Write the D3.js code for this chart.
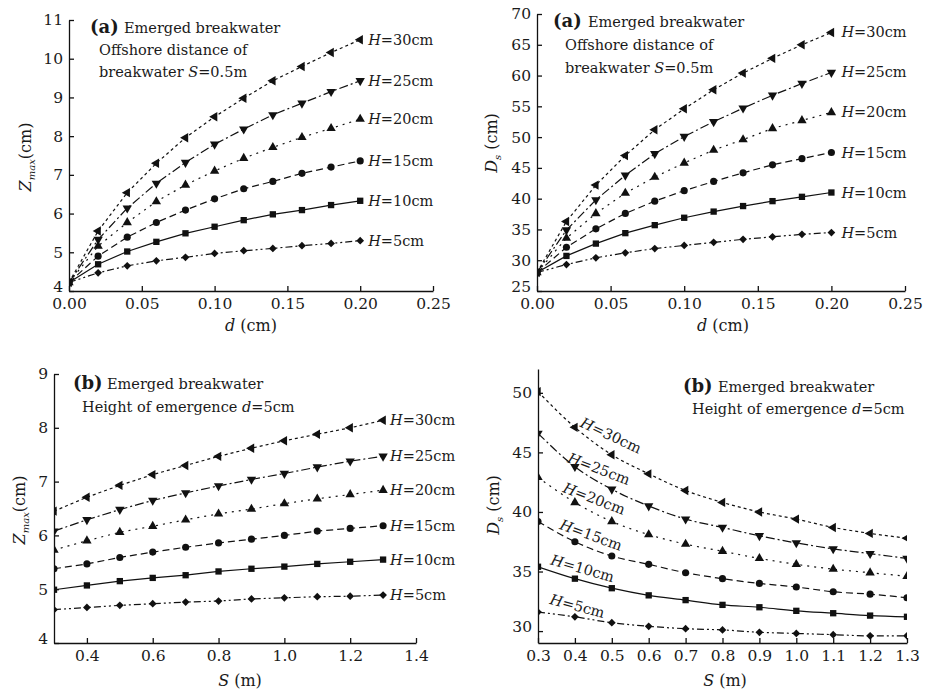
<!DOCTYPE html>
<html>
<head>
<meta charset="utf-8">
<script src="https://cdn.jsdelivr.net/npm/d3@7"></script>
<style>
  html, body { margin: 0; padding: 0; background: #fff; }
  svg { display: block; }
  svg text { font-family: "DejaVu Serif", "Liberation Serif", serif; fill: #1a1a1a; }
</style>
</head>
<body>
<svg id="chart" width="927" height="691"></svg>
<script>
// ---- data ----------------------------------------------------------------
const waveHeights = [30, 25, 20, 15, 10, 5];          // H (cm)

// (a) relative height d (cm)
const dValues = [0, 0.02, 0.04, 0.06, 0.08, 0.10, 0.12, 0.14, 0.16, 0.18, 0.20];
// Z_max (cm) vs d
const zmaxD30 = [4.22, 5.55, 6.54, 7.30, 7.96, 8.50, 8.98, 9.43, 9.80, 10.16, 10.49];
const zmaxD25 = [4.22, 5.33, 6.14, 6.78, 7.32, 7.79, 8.18, 8.55, 8.85, 9.15, 9.43];
const zmaxD20 = [4.22, 5.16, 5.77, 6.31, 6.74, 7.10, 7.43, 7.71, 7.97, 8.20, 8.44];
const zmaxD15 = [4.22, 4.90, 5.39, 5.77, 6.09, 6.38, 6.64, 6.83, 7.04, 7.20, 7.36];
const zmaxD10 = [4.22, 4.69, 5.02, 5.27, 5.49, 5.66, 5.83, 5.98, 6.09, 6.22, 6.33];
const zmaxD5  = [4.22, 4.47, 4.65, 4.78, 4.87, 4.97, 5.04, 5.10, 5.17, 5.23, 5.30];
// D_s (cm) vs d
const dsD30 = [28.0, 36.3, 42.2, 47.0, 51.2, 54.6, 57.7, 60.4, 62.8, 65.0, 67.0];
const dsD25 = [28.0, 34.9, 39.8, 43.8, 47.3, 50.1, 52.5, 54.7, 56.8, 58.7, 60.5];
const dsD20 = [28.0, 33.6, 37.6, 40.9, 43.5, 45.8, 47.9, 49.6, 51.4, 52.7, 54.0];
const dsD15 = [28.0, 32.1, 35.1, 37.6, 39.6, 41.3, 42.8, 44.2, 45.5, 46.5, 47.5];
const dsD10 = [28.0, 30.7, 32.7, 34.4, 35.7, 36.9, 37.9, 38.8, 39.6, 40.3, 41.0];
const dsD5  = [28.0, 29.3, 30.4, 31.2, 31.9, 32.4, 32.9, 33.4, 33.8, 34.2, 34.5];

// (b) offshore distance S (m)
const sValues = [0.3, 0.4, 0.5, 0.6, 0.7, 0.8, 0.9, 1.0, 1.1, 1.2, 1.3];
// Z_max (cm) vs S
const zmaxS30 = [6.45, 6.71, 6.93, 7.13, 7.30, 7.47, 7.62, 7.76, 7.88, 8.00, 8.14];
const zmaxS25 = [6.08, 6.29, 6.48, 6.65, 6.79, 6.92, 7.04, 7.15, 7.27, 7.38, 7.47];
const zmaxS20 = [5.73, 5.90, 6.06, 6.17, 6.29, 6.40, 6.49, 6.59, 6.68, 6.76, 6.84];
const zmaxS15 = [5.38, 5.47, 5.59, 5.69, 5.78, 5.86, 5.93, 6.00, 6.08, 6.13, 6.18];
const zmaxS10 = [4.99, 5.07, 5.15, 5.21, 5.26, 5.33, 5.38, 5.42, 5.47, 5.51, 5.55];
const zmaxS5  = [4.62, 4.66, 4.70, 4.73, 4.76, 4.78, 4.82, 4.84, 4.86, 4.87, 4.89];
// D_s (cm) vs S
const dsS30 = [50.1, 47.1, 44.8, 43.2, 41.8, 40.8, 40.0, 39.4, 38.7, 38.2, 37.8];
const dsS25 = [46.6, 43.8, 41.9, 40.5, 39.4, 38.7, 38.0, 37.4, 36.9, 36.5, 36.1];
const dsS20 = [42.9, 40.8, 39.2, 38.1, 37.3, 36.7, 36.1, 35.6, 35.2, 34.9, 34.6];
const dsS15 = [39.2, 37.5, 36.3, 35.6, 34.9, 34.4, 34.0, 33.7, 33.3, 33.1, 32.8];
const dsS10 = [35.4, 34.4, 33.6, 33.0, 32.6, 32.2, 32.0, 31.7, 31.5, 31.3, 31.2];
const dsS5  = [31.6, 31.2, 30.7, 30.4, 30.2, 30.1, 29.9, 29.8, 29.7, 29.6, 29.6];

// tick values
const ticksD = [0, 0.05, 0.10, 0.15, 0.20, 0.25];
const ticksZmaxD = [4, 5, 6, 7, 8, 9, 10, 11];
const ticksDsD = [25, 30, 35, 40, 45, 50, 55, 60, 65, 70];
const ticksSLeft = [0.4, 0.6, 0.8, 1.0, 1.2, 1.4];
const ticksZmaxS = [4, 5, 6, 7, 8, 9];
const ticksSRight = [0.3, 0.4, 0.5, 0.6, 0.7, 0.8, 0.9, 1.0, 1.1, 1.2, 1.3];
const ticksDsS = [30, 35, 40, 45, 50];

// ---- styles per wave height ---------------------------------------------
const dashFor = {30: "3,3", 25: "9,3,2,3", 20: "2,5", 15: "7,4", 10: null, 5: "7,3,2,3,2,3"};
const markerFor = {
  30: {type: d3.symbolTriangle, size: 38, rot: -90},
  25: {type: d3.symbolTriangle, size: 38, rot: 180},
  20: {type: d3.symbolTriangle, size: 38, rot: 0},
  15: {type: d3.symbolCircle,   size: 40, rot: 0},
  10: {type: d3.symbolSquare,   size: 40, rot: 0},
  5:  {type: d3.symbolSquare,   size: 30, rot: 45}
};

const FS_TICK = 15.5, FS_TEXT = 14.5, FS_TAG = 18, FS_TITLE = 16;

const svg = d3.select("#chart");
let clipId = 0;

function italicParts(sel, parts) {
  parts.forEach(p => {
    const t = sel.append("tspan").text(p.t);
    if (p.i) t.attr("font-style", "italic");
    if (p.b) t.attr("font-weight", "bold");
    if (p.fs) t.attr("font-size", p.fs);
    if (p.dy) t.attr("dy", p.dy);
  });
  return sel;
}

function drawPanel(cfg) {
  const x = d3.scaleLinear().domain(cfg.xDomain).range([cfg.left, cfg.right]);
  const y = d3.scaleLinear().domain(cfg.yDomain).range([cfg.bottom, cfg.top]);
  const g = svg.append("g");

  // axes with inward ticks
  const ax = g.append("g").attr("transform", `translate(0,${cfg.bottom})`)
    .call(d3.axisBottom(x).tickValues(cfg.xTicks).tickFormat(cfg.xFmt)
      .tickSizeInner(-5).tickSizeOuter(0).tickPadding(7));
  const ay = g.append("g").attr("transform", `translate(${cfg.left},0)`)
    .call(d3.axisLeft(y).tickValues(cfg.yTicks).tickFormat(d3.format("d"))
      .tickSizeInner(-5).tickSizeOuter(0).tickPadding(6));
  [ax, ay].forEach(a => {
    a.attr("font-family", null).attr("font-size", null);
    a.selectAll("path, line").attr("stroke", "#111").attr("stroke-width", 1.3);
    a.selectAll("text").attr("font-size", FS_TICK).attr("fill", "#1a1a1a");
  });
  // lift the lowest y label a little so it clears the corner x label
  ay.selectAll(".tick text").filter(d => d === cfg.yTicks[0]).attr("dy", "0em");

  // clip to the plot area
  const id = "clip" + (clipId++);
  svg.append("clipPath").attr("id", id).append("rect")
    .attr("x", cfg.left).attr("y", cfg.top)
    .attr("width", cfg.right - cfg.left).attr("height", cfg.bottom - cfg.top);
  const plot = g.append("g").attr("clip-path", `url(#${id})`);

  const line = d3.line().x(d => x(d[0])).y(d => y(d[1])).curve(cfg.curve);

  waveHeights.forEach((h, i) => {
    const pts = cfg.xs.map((v, k) => [v, cfg.series[i][k]]);
    plot.append("path").datum(pts)
      .attr("d", line).attr("fill", "none")
      .attr("stroke", "#111").attr("stroke-width", 1.2)
      .attr("stroke-dasharray", dashFor[h]);
    const m = markerFor[h];
    const sym = d3.symbol().type(m.type).size(m.size);
    plot.selectAll(null).data(pts).join("path")
      .attr("d", sym)
      .attr("transform", d => `translate(${x(d[0])},${y(d[1])}) rotate(${m.rot})`)
      .attr("fill", "#111");
  });

  // series labels
  waveHeights.forEach((h, i) => {
    const lab = cfg.labels ? cfg.labels[i] : null;
    let tx, ty, rot = 0, base = "central";
    if (lab) {
      tx = x(lab[0]); ty = y(lab[1]); rot = lab[2]; base = "auto";
    } else {
      const last = cfg.series[i][cfg.series[i].length - 1];
      tx = x(cfg.xs[cfg.xs.length - 1]) + cfg.labelGap; ty = y(last);
    }
    const t = g.append("text")
      .attr("transform", `translate(${tx},${ty}) rotate(${rot})`)
      .attr("font-size", FS_TEXT).attr("dominant-baseline", base);
    italicParts(t, [{t: "H", i: true}, {t: `=${h}cm`}]);
  });

  // axis titles
  const xt = g.append("text").attr("x", cfg.xTitle[0]).attr("y", cfg.xTitle[1])
    .attr("text-anchor", "middle").attr("font-size", FS_TITLE);
  italicParts(xt, cfg.xTitleParts);
  const yt = g.append("text")
    .attr("transform", `translate(${cfg.yTitle[0]},${cfg.yTitle[1]}) rotate(-90)`)
    .attr("text-anchor", "middle").attr("font-size", FS_TITLE);
  italicParts(yt, cfg.yTitleParts);

  // annotation block
  cfg.notes.forEach(n => {
    const t = g.append("text").attr("x", n.x).attr("y", n.y).attr("font-size", n.fs || FS_TEXT);
    italicParts(t, n.parts);
  });
}

const zmaxTitle = [{t: "Z", i: true}, {t: "max", i: true, fs: 10, dy: 4}, {t: "(cm)", dy: -4}];
const dsTitle = [{t: "D", i: true}, {t: "s", i: true, fs: 10, dy: 4}, {t: " (cm)", dy: -4}];
const dTitle = [{t: "d", i: true}, {t: " (cm)"}];
const sTitle = [{t: "S", i: true}, {t: " (m)"}];

drawPanel({
  left: 69, right: 433, top: 20, bottom: 291,
  xDomain: [0, 0.25], yDomain: [4, 11],
  xTicks: ticksD, yTicks: ticksZmaxD, xFmt: d3.format(".2f"),
  xs: dValues, series: [zmaxD30, zmaxD25, zmaxD20, zmaxD15, zmaxD10, zmaxD5],
  curve: d3.curveLinear, labelGap: 8,
  xTitle: [251, 331], xTitleParts: dTitle,
  yTitle: [31, 157], yTitleParts: zmaxTitle,
  notes: [
    {x: 90, y: 33, fs: FS_TAG, parts: [{t: "(a)", b: true}]},
    {x: 124, y: 33, parts: [{t: "Emerged breakwater"}]},
    {x: 99, y: 55, parts: [{t: "Offshore distance of"}]},
    {x: 99, y: 77, parts: [{t: "breakwater "}, {t: "S", i: true}, {t: "=0.5m"}]}
  ]
});

drawPanel({
  left: 537, right: 905, top: 14, bottom: 291,
  xDomain: [0, 0.25], yDomain: [25, 70],
  xTicks: ticksD, yTicks: ticksDsD, xFmt: d3.format(".2f"),
  xs: dValues, series: [dsD30, dsD25, dsD20, dsD15, dsD10, dsD5],
  curve: d3.curveLinear, labelGap: 10,
  xTitle: [723, 331], xTitleParts: dTitle,
  yTitle: [497, 143], yTitleParts: dsTitle,
  notes: [
    {x: 553, y: 27, fs: FS_TAG, parts: [{t: "(a)", b: true}]},
    {x: 588, y: 27, parts: [{t: "Emerged breakwater"}]},
    {x: 565, y: 50, parts: [{t: "Offshore distance of"}]},
    {x: 565, y: 73, parts: [{t: "breakwater "}, {t: "S", i: true}, {t: "=0.5m"}]}
  ]
});

drawPanel({
  left: 54, right: 416, top: 374, bottom: 643,
  xDomain: [0.3, 1.4], yDomain: [4, 9],
  xTicks: ticksSLeft, yTicks: ticksZmaxS, xFmt: d3.format(".1f"),
  xs: sValues, series: [zmaxS30, zmaxS25, zmaxS20, zmaxS15, zmaxS10, zmaxS5],
  curve: d3.curveLinear, labelGap: 7,
  xTitle: [240, 686], xTitleParts: sTitle,
  yTitle: [25, 510], yTitleParts: zmaxTitle,
  notes: [
    {x: 73, y: 389, fs: FS_TAG, parts: [{t: "(b)", b: true}]},
    {x: 107, y: 389, parts: [{t: "Emerged breakwater"}]},
    {x: 82, y: 412, parts: [{t: "Height of emergence "}, {t: "d", i: true}, {t: "=5cm"}]}
  ]
});

drawPanel({
  left: 538, right: 907, top: 369, bottom: 643,
  xDomain: [0.3, 1.3], yDomain: [29, 52],
  xTicks: ticksSRight, yTicks: ticksDsS, xFmt: d3.format(".1f"),
  xs: sValues, series: [dsS30, dsS25, dsS20, dsS15, dsS10, dsS5],
  curve: d3.curveMonotoneX,
  labels: [[0.412, 47.2, 25], [0.378, 44.2, 21], [0.365, 41.7, 21],
           [0.356, 38.6, 20], [0.332, 35.6, 16], [0.33, 32.3, 15]],
  xTitle: [725, 686], xTitleParts: sTitle,
  yTitle: [499, 505], yTitleParts: dsTitle,
  notes: [
    {x: 683, y: 392, fs: FS_TAG, parts: [{t: "(b)", b: true}]},
    {x: 718, y: 392, parts: [{t: "Emerged breakwater"}]},
    {x: 692, y: 414, parts: [{t: "Height of emergence "}, {t: "d", i: true}, {t: "=5cm"}]}
  ]
});
</script>
</body>
</html>
